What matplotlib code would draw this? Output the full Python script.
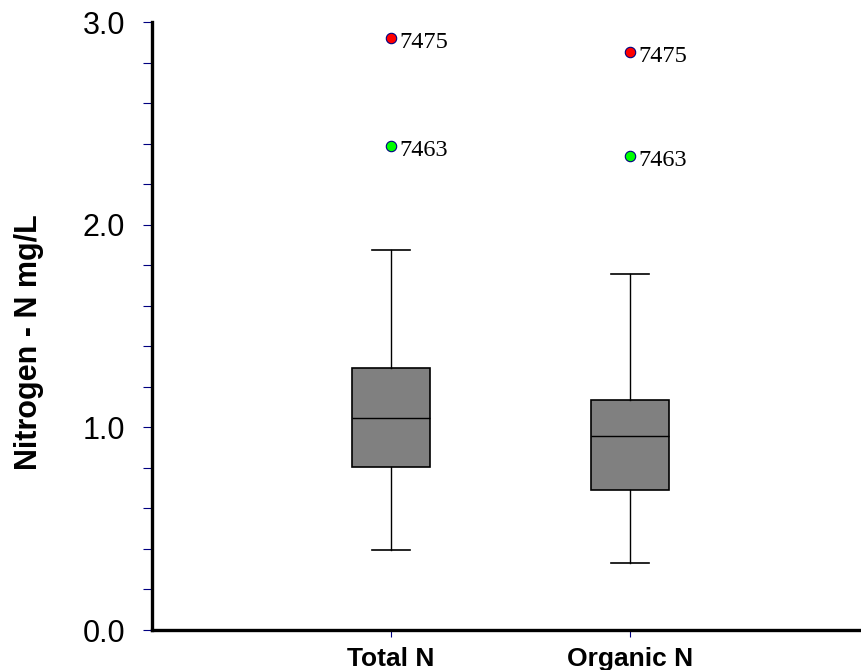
import matplotlib
matplotlib.use("Agg")
import matplotlib.pyplot as plt
import numpy as np

# box statistics (mg/L)
groups = ["Total N", "Organic N"]
whisker_low = [0.395, 0.331]
q1 = [0.804, 0.691]
median = [1.046, 0.957]
q3 = [1.293, 1.135]
whisker_high = [1.875, 1.757]

# flagged samples
outlier_ids = ["7475", "7463"]
outlier_colors = ["#ff0000", "#00ff00"]
outliers_total = [2.921, 2.388]
outliers_organic = [2.852, 2.339]

fig = plt.figure(figsize=(8.62, 6.70), dpi=100)
ax = fig.add_axes([152/862, 40/670, 710/862, 608/670])

stats = []
for i in range(len(groups)):
    stats.append(dict(whislo=whisker_low[i], q1=q1[i], med=median[i],
                      q3=q3[i], whishi=whisker_high[i], fliers=[], label=groups[i]))

positions = [1, 2]
ax.bxp(stats, positions=positions, widths=0.326, capwidths=0.16,
       patch_artist=True, showfliers=False,
       boxprops=dict(facecolor="#808080", edgecolor="black", linewidth=1.2),
       medianprops=dict(color="black", linewidth=1.0),
       whiskerprops=dict(color="black", linewidth=1.0),
       capprops=dict(color="black", linewidth=1.2))

# labelled outliers
for pos, vals in zip(positions, [outliers_total, outliers_organic]):
    for v, lab, c in zip(vals, outlier_ids, outlier_colors):
        ax.plot(pos, v, "o", ms=7.5, mfc=c, mec="navy", mew=0.8, zorder=5, clip_on=False)
        ax.text(pos + 0.033, v - 0.022, lab, fontsize=17.5, family="Liberation Serif",
                ha="left", va="center")

ax.set_xlim(0, 2.97)
ax.set_ylim(0, 3)
ax.set_xticks(positions)
ax.set_xticklabels(groups, fontsize=19, fontweight="bold", family="Liberation Sans")
ax.set_yticks([0, 1, 2, 3])
ax.set_yticklabels(["0.0", "1.0", "2.0", "3.0"], fontsize=22, family="Liberation Sans")
ax.set_yticks(np.arange(0, 3.01, 0.2), minor=True)

ax.tick_params(axis="y", which="both", direction="out", length=6.5, width=0.8,
               color="navy", pad=13)
ax.tick_params(axis="x", direction="out", length=5, width=0.8, color="navy", pad=7)

for s in ["top", "right"]:
    ax.spines[s].set_visible(False)
for s in ["left", "bottom"]:
    ax.spines[s].set_linewidth(2.4)

ax.set_ylabel("Nitrogen - N mg/L", fontsize=22, fontweight="bold", family="Liberation Sans")
ax.yaxis.set_label_coords(-0.152, 0.474)

fig.savefig("out.png", dpi=100)
